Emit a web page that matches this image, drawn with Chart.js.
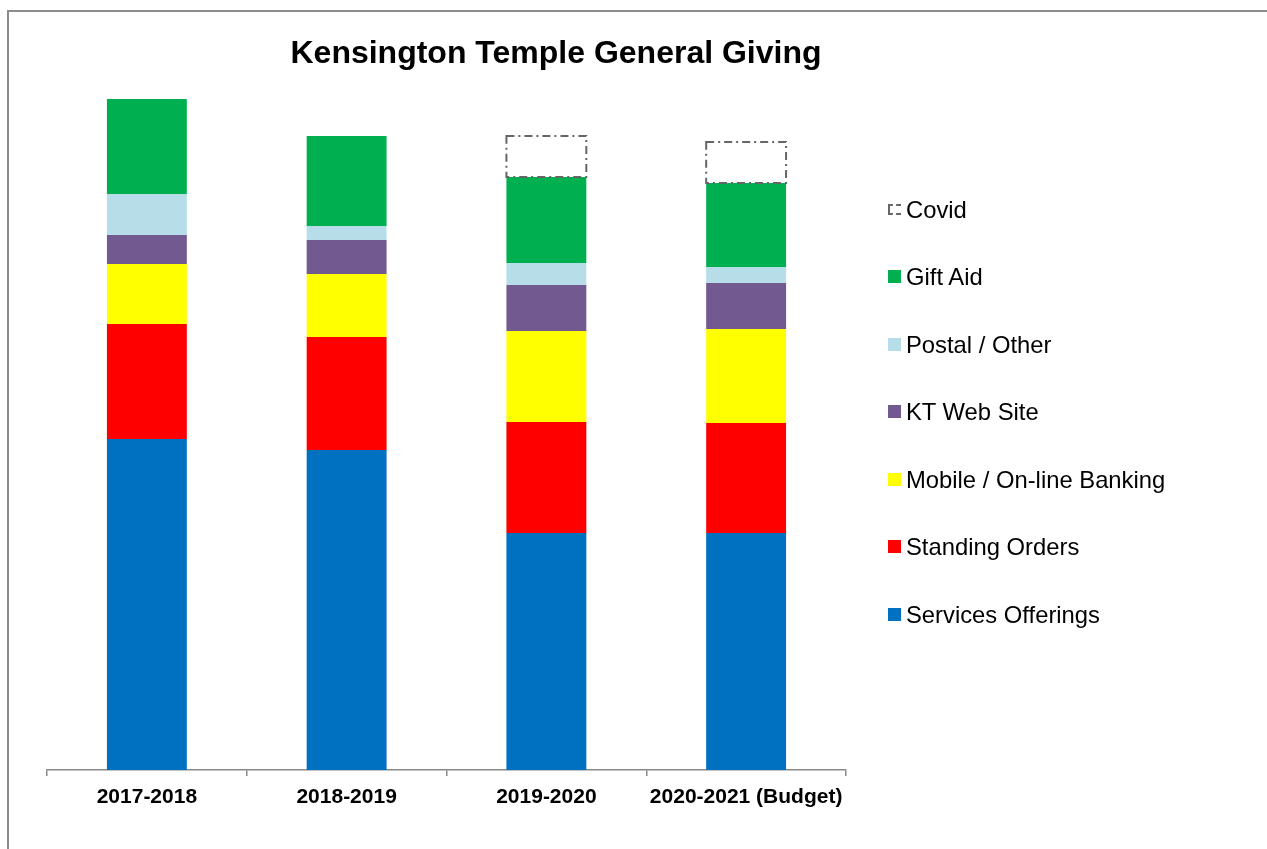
<!DOCTYPE html>
<html>
<head>
<meta charset="utf-8">
<title>Kensington Temple General Giving</title>
<script src="https://cdn.jsdelivr.net/npm/chart.js@4.4.1/dist/chart.umd.min.js"></script>
<style>
  html, body { margin: 0; padding: 0; background: #fff; overflow: hidden; }
  body { width: 1267px; height: 849px; position: relative; font-family: "Liberation Sans", Arial, sans-serif; }
  #frame { position: absolute; left: 7px; top: 10px; width: 1280px; height: 860px; border-top: 2px solid #8c8c8c; border-left: 2px solid #8c8c8c; box-sizing: border-box; }
  #chart { position: absolute; left: 0; top: 0; }
  #title { position: absolute; left: 0; top: 33px; width: 1112px; text-align: center; font-weight: bold; font-size: 32px; line-height: 38px; color: #000; }
  .legend-item { position: absolute; left: 888px; height: 28px; font-size: 23.8px; line-height: 28px; color: #000; white-space: nowrap; }
  .legend-item .box { position: absolute; left: 0; top: 7px; width: 13px; height: 13px; box-sizing: border-box; }
  .legend-item span { position: absolute; left: 18px; top: 0; }
</style>
</head>
<body>
<div id="frame"></div>
<canvas id="chart" width="1267" height="849"></canvas>
<div id="title">Kensington Temple General Giving</div>
<div id="legend"></div>

<script>
// values (arbitrary units, no value axis shown)
const years = ['2017-2018', '2018-2019', '2019-2020', '2020-2021 (Budget)'];
const servicesOfferings = [331, 320, 237, 237];
const standingOrders = [115, 113, 111, 110];
const mobileBanking = [60, 63, 91, 94];
const ktWebSite = [29, 34, 46, 46];
const postalOther = [41, 14, 22, 16];
const giftAid = [95, 90, 86, 84];
const covid = [0, 0, 41, 41];

const COVID_DASH = [8, 4, 2, 4];

// Chart.js bars can't dash their border, so draw the Covid box ourselves
const covidBoxPlugin = {
  id: 'covidBox',
  afterDatasetsDraw(chart) {
    const idx = chart.data.datasets.findIndex(d => d.label === 'Covid');
    const meta = chart.getDatasetMeta(idx);
    const ctx = chart.ctx;
    ctx.save();
    ctx.strokeStyle = '#666';
    ctx.lineWidth = 2;
    ctx.setLineDash(COVID_DASH);
    meta.data.forEach((bar, i) => {
      if (!covid[i]) return;
      const p = bar.getProps(['x', 'y', 'base', 'width'], true);
      ctx.strokeRect(p.x - p.width / 2, p.y, p.width, p.base - p.y);
    });
    ctx.restore();
  }
};

const datasets = [
  { label: 'Services Offerings', data: servicesOfferings, backgroundColor: '#0070C0' },
  { label: 'Standing Orders', data: standingOrders, backgroundColor: '#FF0000' },
  { label: 'Mobile / On-line Banking', data: mobileBanking, backgroundColor: '#FFFF00' },
  { label: 'KT Web Site', data: ktWebSite, backgroundColor: '#72598F' },
  { label: 'Postal / Other', data: postalOther, backgroundColor: '#B7DDE8' },
  { label: 'Gift Aid', data: giftAid, backgroundColor: '#00B050' },
  { label: 'Covid', data: covid, backgroundColor: 'rgba(255,255,255,0)' }
];

const ctx = document.getElementById('chart').getContext('2d');
new Chart(ctx, {
  type: 'bar',
  data: { labels: years, datasets: datasets },
  plugins: [covidBoxPlugin],
  options: {
    responsive: false,
    animation: false,
    layout: { padding: { left: 47, right: 421, top: 90, bottom: 0 } },
    datasets: { bar: { barPercentage: 0.4, categoryPercentage: 1, borderWidth: 0 } },
    plugins: {
      legend: { display: false },
      title: { display: false },
      tooltip: { enabled: false }
    },
    scales: {
      x: {
        stacked: true,
        afterFit(scale) { scale.height = 79; },
        border: { display: true, color: '#888', width: 1.5 },
        grid: { offset: true, drawOnChartArea: false, drawTicks: true, tickLength: 6, color: '#888', lineWidth: 1.5 },
        ticks: {
          color: '#000',
          padding: 9,
          maxRotation: 0,
          font: { family: '"Liberation Sans", Arial, sans-serif', size: 21, weight: 'bold' }
        }
      },
      y: {
        stacked: true,
        display: false,
        min: 0,
        max: 680
      }
    }
  }
});

// legend on the right, top item = last dataset
const legend = document.getElementById('legend');
datasets.slice().reverse().forEach((d, k) => {
  const item = document.createElement('div');
  item.className = 'legend-item';
  item.style.top = (195.5 + 67.5 * k) + 'px';
  const box = document.createElement('div');
  box.className = 'box';
  if (d.label === 'Covid') {
    box.style.border = '2px dashed #666';
    box.style.borderRight = 'none';
    box.style.top = '8px';
    box.style.height = '11px';
  } else {
    box.style.background = d.backgroundColor;
  }
  const txt = document.createElement('span');
  txt.textContent = d.label;
  item.appendChild(box);
  item.appendChild(txt);
  legend.appendChild(item);
});
</script>
</body>
</html>
